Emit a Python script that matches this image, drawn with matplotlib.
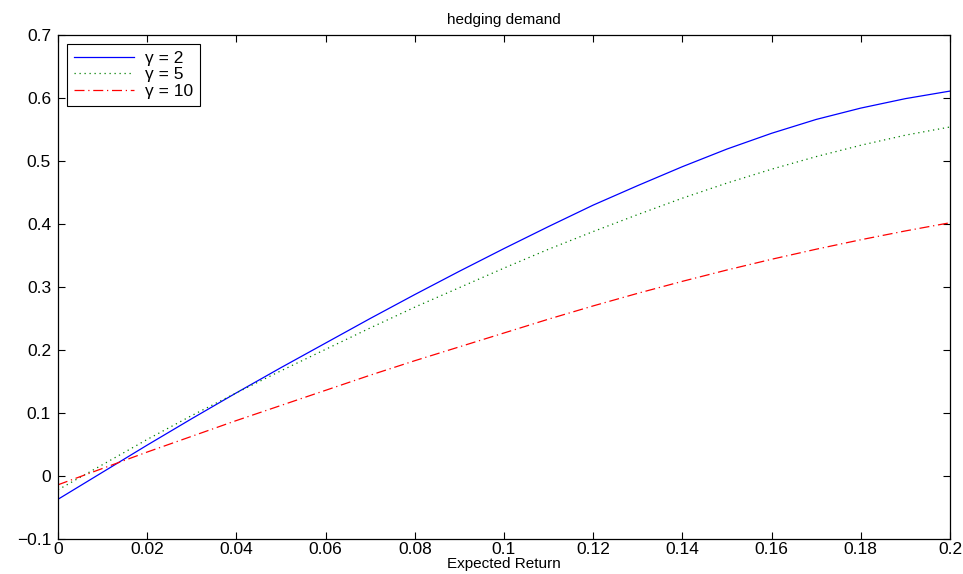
import matplotlib

matplotlib.use("Agg")
import matplotlib.pyplot as plt

plt.rcParams["font.family"] = ["Liberation Sans", "DejaVu Sans"]

expected_return = [0.00, 0.01, 0.02, 0.03, 0.04, 0.05, 0.06, 0.07, 0.08, 0.09, 0.10,
                   0.11, 0.12, 0.13, 0.14, 0.15, 0.16, 0.17, 0.18, 0.19, 0.20]
gamma_2 = [-0.037, 0.006, 0.049, 0.091, 0.132, 0.172, 0.211, 0.250, 0.288, 0.325, 0.361,
           0.396, 0.430, 0.461, 0.491, 0.519, 0.544, 0.566, 0.584, 0.599, 0.611]
gamma_5 = [-0.022, 0.018, 0.058, 0.096, 0.132, 0.167, 0.201, 0.235, 0.268, 0.299, 0.330,
           0.360, 0.388, 0.415, 0.441, 0.465, 0.487, 0.507, 0.525, 0.541, 0.554]
gamma_10 = [-0.014, 0.012, 0.038, 0.063, 0.088, 0.112, 0.136, 0.160, 0.183, 0.205, 0.227,
            0.249, 0.270, 0.290, 0.309, 0.327, 0.344, 0.360, 0.375, 0.389, 0.402]

x_ticks = [0, 0.02, 0.04, 0.06, 0.08, 0.1, 0.12, 0.14, 0.16, 0.18, 0.2]
x_labels = ["0", "0.02", "0.04", "0.06", "0.08", "0.1", "0.12", "0.14", "0.16", "0.18", "0.2"]
y_ticks = [-0.1, 0, 0.1, 0.2, 0.3, 0.4, 0.5, 0.6, 0.7]
y_labels = ["\u22120.1", "0", "0.1", "0.2", "0.3", "0.4", "0.5", "0.6", "0.7"]


def main():
    fig = plt.figure(figsize=(9.63, 5.74), dpi=100)
    ax = fig.add_axes([0.0602, 0.061, 0.9263, 0.878])

    ax.plot(expected_return, gamma_2, color="blue", linewidth=0.9, linestyle="-",
            label="\u03b3 = 2")
    ax.plot(expected_return, gamma_5, color=(0, 0.5, 0), linewidth=0.9, linestyle=(0, (1, 3)),
            label="\u03b3 = 5")
    ax.plot(expected_return, gamma_10, color="red", linewidth=0.9,
            linestyle=(0, (8, 3, 1, 3)), label="\u03b3 = 10")

    ax.set_xlim(0, 0.2)
    ax.set_ylim(-0.1, 0.7)
    ax.set_xticks(x_ticks, x_labels)
    ax.set_yticks(y_ticks, y_labels)
    ax.tick_params(direction="in", top=True, right=True, length=5, width=0.8,
                   labelsize=12.5)
    ax.tick_params(axis="x", pad=2)
    ax.tick_params(axis="y", pad=5)
    for sp in ax.spines.values():
        sp.set_linewidth(0.9)

    ax.set_title("hedging demand", fontsize=11, pad=8)
    ax.set_xlabel("Expected Return", fontsize=11, labelpad=0)

    leg = ax.legend(loc="upper left", fontsize=12.5, frameon=True, fancybox=False,
                    edgecolor="black", framealpha=1, borderpad=0.4, handlelength=3.5,
                    handletextpad=0.6, labelspacing=0.08, borderaxespad=0.5)
    leg.get_frame().set_linewidth(0.8)

    fig.savefig("out.png", dpi=100)
    plt.close(fig)


if __name__ == "__main__":
    main()
